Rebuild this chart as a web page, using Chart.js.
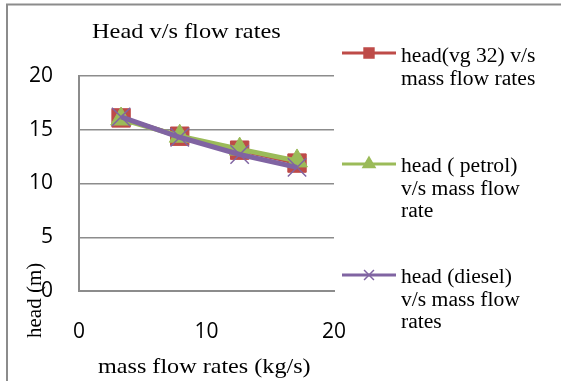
<!DOCTYPE html>
<html>
<head>
<meta charset="utf-8">
<style>
  html, body { margin: 0; padding: 0; background: white; }
  #wrap { position: relative; width: 561px; height: 381px; }
</style>
</head>
<body>
<div id="wrap"><canvas id="myChart" width="561" height="381"></canvas></div>

<script src="https://cdn.jsdelivr.net/npm/chart.js"></script>
<script type="text/javascript">
  // data
  var massFlow = [3.3, 7.9, 12.6, 17.1];
  var headVg32 = [16.1, 14.4, 13.1, 11.9];
  var headPetrol = [16.0, 14.4, 13.2, 12.1];
  var headDiesel = [16.2, 14.3, 12.7, 11.5];

  var seriesNames = [
    ['head(vg 32) v/s', 'mass flow rates'],
    ['head ( petrol)', 'v/s mass flow', 'rate'],
    ['head (diesel)', 'v/s mass flow', 'rates']
  ];
  var yTicks = [0, 5, 10, 15, 20];
  var xTicks = [0, 10, 20];

  var chartTitle = 'Head v/s flow rates';
  var xTitle = 'mass flow rates (kg/s)';
  var yTitle = 'head (m)';

  var red = '#be4b48', green = '#9bbb59', purple = '#8064a2', gridGray = '#8c8c8c';

  function pts(ys) {
    return massFlow.map(function (x, i) { return { x: x, y: ys[i] }; });
  }

  function serifText(ctx, txt, x, y, size, sx) {
    ctx.save();
    ctx.translate(x, y);
    ctx.scale(sx, 1);
    ctx.font = size + 'px "Liberation Serif", "Times New Roman", serif';
    ctx.fillStyle = '#000';
    ctx.textAlign = 'left';
    ctx.textBaseline = 'alphabetic';
    ctx.fillText(txt, 0, 0);
    ctx.restore();
  }

  // titles, frame and the multi-line legend
  var extras = {
    id: 'extras',
    afterDraw: function (chart) {
      var ctx = chart.ctx;

      ctx.save();
      ctx.strokeStyle = gridGray;
      ctx.lineWidth = 2;
      ctx.beginPath();
      ctx.moveTo(7, 381);
      ctx.lineTo(7, 4.5);
      ctx.lineTo(561, 4.5);
      ctx.stroke();
      ctx.restore();

      serifText(ctx, chartTitle, 92, 38, 21, 1.16);
      serifText(ctx, xTitle, 98, 373, 21, 1.15);

      ctx.save();
      ctx.translate(41, 338);
      ctx.rotate(-Math.PI / 2);
      serifText(ctx, yTitle, 0, 0, 20, 1.05);
      ctx.restore();

      var entries = [
        { color: red, ds: 0, lineY: 53, base: 62 },
        { color: green, ds: 1, lineY: 164, base: 172 },
        { color: purple, ds: 2, lineY: 275, base: 283 }
      ];
      entries.forEach(function (e) {
        var d = chart.data.datasets[e.ds];
        ctx.save();
        ctx.strokeStyle = e.color;
        ctx.lineWidth = 3;
        ctx.beginPath();
        ctx.moveTo(342, e.lineY);
        ctx.lineTo(396, e.lineY);
        ctx.stroke();
        ctx.fillStyle = e.color;
        ctx.lineWidth = 1.5;
        Chart.helpers.drawPoint(ctx, { pointStyle: d.pointStyle, radius: 7, borderWidth: 1.5, rotation: 0 }, 369, e.lineY);
        ctx.restore();
        seriesNames[e.ds].forEach(function (line, k) {
          serifText(ctx, line, 401, e.base + k * 22.5, 20, 1.08);
        });
      });
    }
  };

  var ctx = document.getElementById('myChart');

  new Chart(ctx, {
    type: 'scatter',
    data: {
      datasets: [
        {
          label: seriesNames[0].join(' '),
          data: pts(headVg32),
          showLine: true,
          borderColor: red,
          backgroundColor: red,
          borderWidth: 4,
          pointStyle: 'rect',
          pointRadius: 13,
          pointBorderWidth: 1,
          pointBorderColor: red,
          pointBackgroundColor: red,
          order: 3
        },
        {
          label: seriesNames[1].join(' '),
          data: pts(headPetrol),
          showLine: true,
          borderColor: green,
          backgroundColor: green,
          borderWidth: 5,
          pointStyle: 'triangle',
          pointRadius: 12,
          pointBorderWidth: 1,
          pointBorderColor: green,
          pointBackgroundColor: green,
          order: 2
        },
        {
          label: seriesNames[2].join(' '),
          data: pts(headDiesel),
          showLine: true,
          borderColor: purple,
          backgroundColor: purple,
          borderWidth: 5,
          pointStyle: 'crossRot',
          pointRadius: 13,
          pointBorderWidth: 1.5,
          pointBorderColor: purple,
          order: 1
        }
      ]
    },
    options: {
      responsive: false,
      animation: false,
      layout: { padding: { left: 0, top: 76, right: 227, bottom: 0 } },
      plugins: {
        legend: { display: false },
        title: { display: false },
        tooltip: { enabled: false }
      },
      scales: {
        x: {
          type: 'linear',
          min: 0,
          max: 20,
          afterBuildTicks: function (s) { s.ticks = xTicks.map(function (v) { return { value: v }; }); },
          afterFit: function (s) { s.height = 90; },
          grid: { display: false, drawTicks: false },
          border: { display: true, color: gridGray, width: 2 },
          ticks: {
            padding: 28,
            color: '#000',
            maxRotation: 0,
            font: { family: '"Open Sans", sans-serif', size: 21 }
          }
        },
        y: {
          type: 'linear',
          min: 0,
          max: 20,
          afterBuildTicks: function (s) { s.ticks = yTicks.map(function (v) { return { value: v }; }); },
          afterFit: function (s) { s.width = 79; },
          grid: { color: gridGray, lineWidth: 1.5, drawTicks: false },
          border: { display: true, color: gridGray, width: 2 },
          ticks: {
            padding: 26,
            color: '#000',
            font: { family: '"Open Sans", sans-serif', size: 21 }
          }
        }
      }
    },
    plugins: [extras]
  });
</script>
</body>
</html>
